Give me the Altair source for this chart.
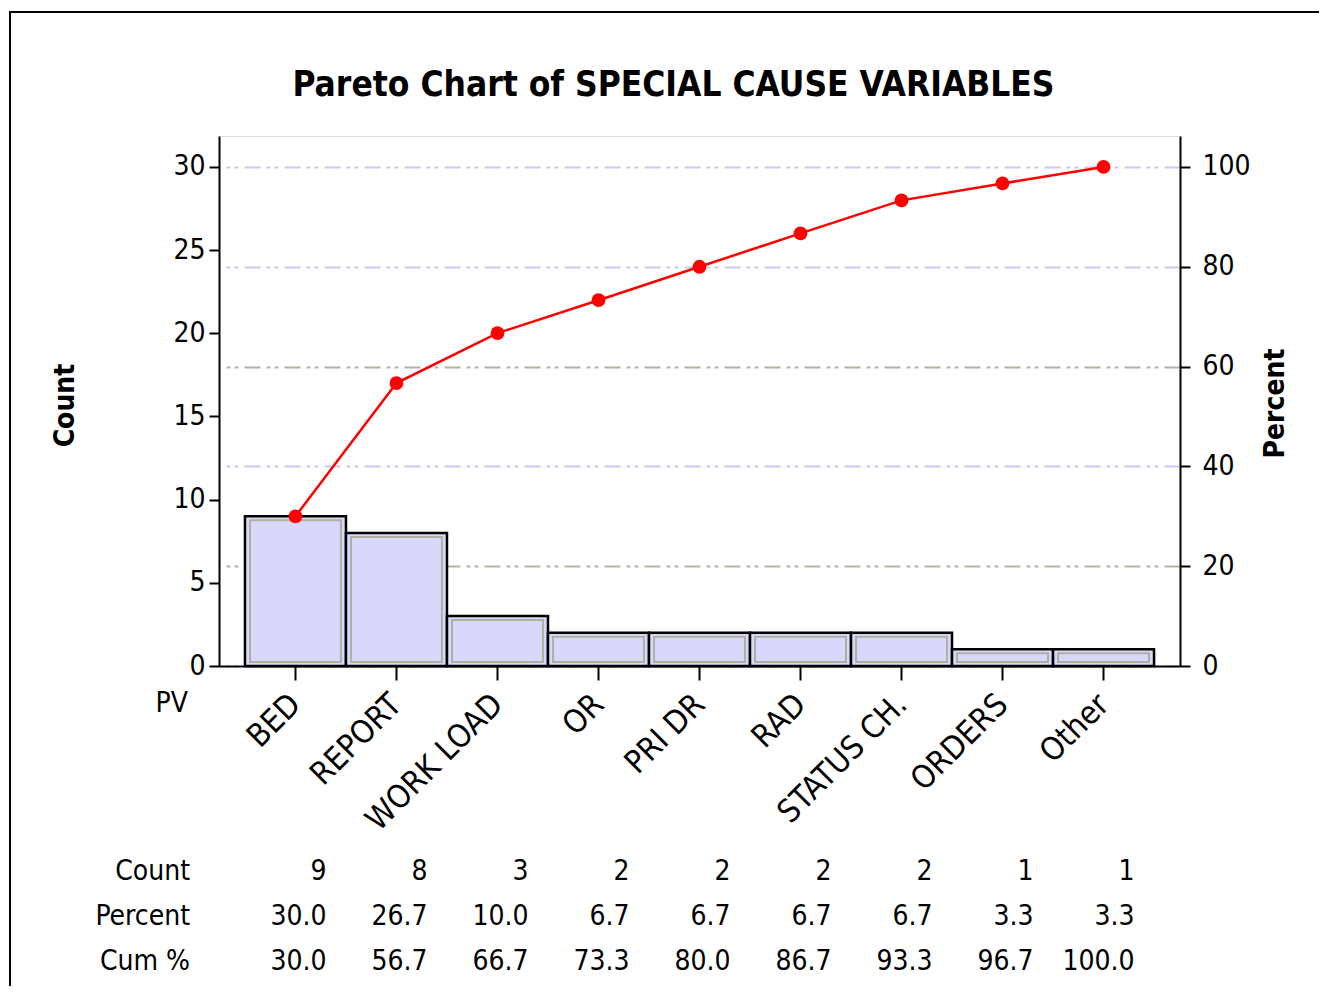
import altair as alt
import pandas as pd

CATEGORIES = ["BED", "REPORT", "WORK LOAD", "OR", "PRI DR", "RAD", "STATUS CH.", "ORDERS", "Other"]
COUNTS = [9, 8, 3, 2, 2, 2, 2, 1, 1]
PERCENTS = [30.0, 26.7, 10.0, 6.7, 6.7, 6.7, 6.7, 3.3, 3.3]
CUM_PCTS = [30.0, 56.7, 66.7, 73.3, 80.0, 86.7, 93.3, 96.7, 100.0]
ROW_LABELS = ["Count", "Percent", "Cum %"]
COUNT_TICKS = [0, 5, 10, 15, 20, 25, 30]
PCT_TICKS = [0, 20, 40, 60, 80, 100]

FONT = "DejaVu Sans Condensed, DejaVu Sans"
W, H = 961, 530
COUNT_MAX = 31.86
PCT_MAX = COUNT_MAX * 100 / 30

df = pd.DataFrame({"cat": CATEGORIES, "count": COUNTS, "pct": PERCENTS, "cum": CUM_PCTS})
table = pd.DataFrame({
    "cat": CATEGORIES * 3,
    "row": ["Count"] * 9 + ["Percent"] * 9 + ["Cum %"] * 9,
    "txt": [str(c) for c in COUNTS] + [f"{p:.1f}" for p in PERCENTS] + [f"{c:.1f}" for c in CUM_PCTS],
})
rows_df = pd.DataFrame({"row": ROW_LABELS})

x_enc = alt.X(
    "cat:N", sort=CATEGORIES,
    scale=alt.Scale(paddingInner=0, paddingOuter=0.257),
    axis=alt.Axis(
        title="PV", titleX=-64, titleY=37, titleAlign="left", titleBaseline="middle",
        titleAngle=0, titleFontWeight="normal", titleFontSize=28, titleFont=FONT,
        labelAngle=-45, labelAlign="right", labelBaseline="middle", labelFontSize=32,
        labelFont=FONT, labelPadding=19, tickSize=14, tickWidth=2, tickColor="black",
        domainColor="black", domainWidth=2, labelColor="black", grid=False,
    ),
)

count_scale = alt.Scale(domain=[0, COUNT_MAX], nice=False, zero=True)
pct_scale = alt.Scale(domain=[0, PCT_MAX], nice=False, zero=True)
row_scale = alt.Scale(type="point", domain=ROW_LABELS, range=[736, 826], padding=0)

base = alt.Chart(df)

bars = base.mark_bar(fill="#D8D8FC", stroke="black", strokeWidth=2.5, width=alt.RelativeBandSize(1.0)).encode(
    x=x_enc,
    y=alt.Y("count:Q", scale=count_scale, axis=alt.Axis(
        title="Count", titleX=-154, titleY=269, titleAngle=-90, titleAlign="center",
        titleBaseline="middle", titleFontSize=28, titleFont=FONT, titleFontWeight="bold",
        values=COUNT_TICKS, labelFontSize=28, labelFont=FONT, labelPadding=4,
        tickSize=10, tickWidth=2, tickColor="black", domainColor="black", domainWidth=2,
        labelColor="black", grid=False,
    )),
)

inner = base.mark_bar(fill="#D8D8FC", stroke="#B0B0A0", strokeWidth=2,
                      width=alt.RelativeBandSize(0.9), yOffset=4, y2Offset=-4).encode(
    x=x_enc,
    y=alt.Y("count:Q", scale=count_scale, axis=None),
    y2=alt.datum(0),
)

line = base.mark_line(color="#FF0000", strokeWidth=2.5).encode(
    x=x_enc,
    y=alt.Y("cum:Q", scale=pct_scale, axis=alt.Axis(
        orient="right", title="Percent", titleX=95, titleY=267, titleAngle=270,
        titleAlign="center", titleBaseline="middle", titleFontSize=28, titleFont=FONT,
        titleFontWeight="bold", values=PCT_TICKS, labelFontSize=28, labelFont=FONT,
        labelPadding=12, tickSize=10, tickWidth=2, tickColor="black", domainColor="black",
        domainWidth=2, labelColor="black", grid=True,
        gridColor={"condition": {"test": "datum.value == 60 || datum.value == 20", "value": "#B4B4A4"},
                   "value": "#C8C8F4"},
        gridDash=[16, 6, 4, 4, 4, 6], gridWidth=1.8,
    )),
)

points = base.mark_circle(color="#FF0000", opacity=1, size=190).encode(
    x=x_enc,
    y=alt.Y("cum:Q", scale=pct_scale, axis=None),
)

cells = alt.Chart(table).mark_text(align="right", baseline="middle", dx=31, fontSize=28,
                                   font=FONT, color="black").encode(
    x=x_enc,
    y=alt.Y("row:N", scale=row_scale, axis=None),
    text="txt:N",
)

row_labels = alt.Chart(rows_df).mark_text(align="right", baseline="middle", fontSize=28,
                                          font=FONT, color="black").encode(
    x=alt.value(-29),
    y=alt.Y("row:N", scale=row_scale, axis=None),
    text="row:N",
)

frame = alt.Chart(rows_df).mark_rect(fill=None, stroke="black", strokeWidth=2).encode(
    x=alt.value(-209), x2=alt.value(1130), y=alt.value(-124), y2=alt.value(900),
)

chart = alt.layer(frame, bars, inner, line, points, cells, row_labels).resolve_scale(
    y="independent"
).properties(
    width=W, height=H,
    title=alt.TitleParams(text="Pareto Chart of SPECIAL CAUSE VARIABLES", font=FONT,
                          fontSize=35, fontWeight="bold", color="black", dx=-26, offset=-92),
    autosize=alt.AutoSizeParams(type="none"),
    padding={"left": 211, "top": 128, "right": 139, "bottom": 320},
).configure_view(stroke="black", strokeWidth=2.5).configure(background="white")

chart.save("out.html", embed_options={"renderer": "svg", "actions": False})
